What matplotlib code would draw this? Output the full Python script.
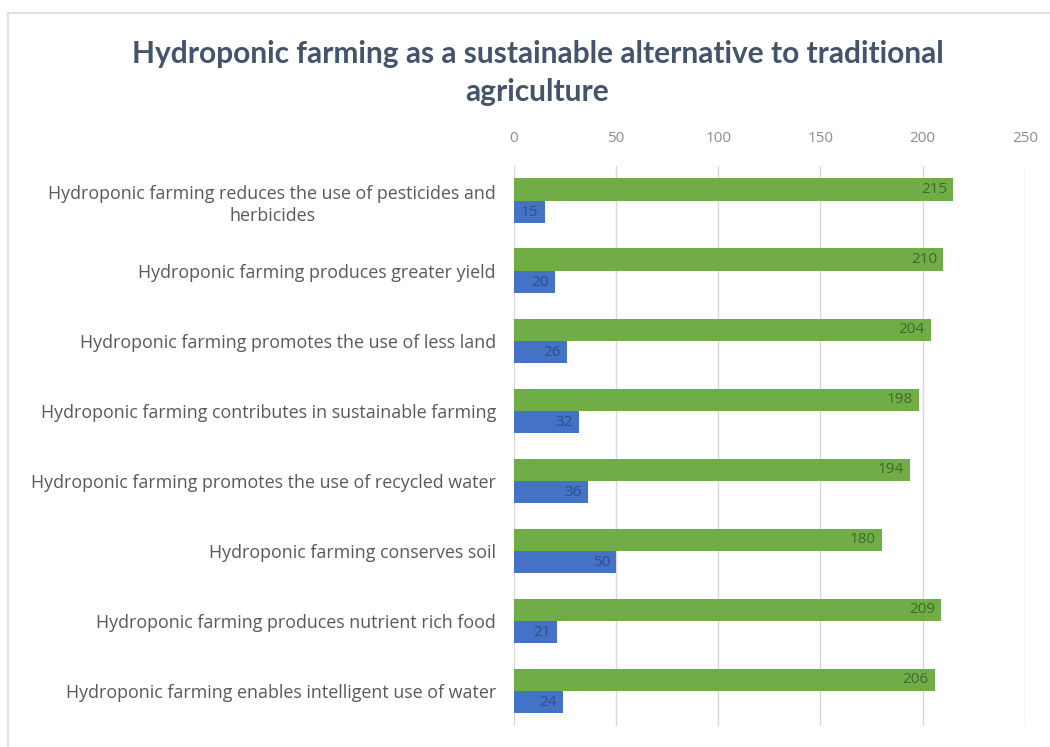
import matplotlib.pyplot as plt
import numpy as np
from matplotlib.patches import Rectangle

categories = [
    "Hydroponic farming reduces the use of pesticides and\nherbicides",
    "Hydroponic farming produces greater yield",
    "Hydroponic farming promotes the use of less land",
    "Hydroponic farming contributes in sustainable farming",
    "Hydroponic farming promotes the use of recycled water",
    "Hydroponic farming conserves soil",
    "Hydroponic farming produces nutrient rich food",
    "Hydroponic farming enables intelligent use of water",
]
agree = [215, 210, 204, 198, 194, 180, 209, 206]
disagree = [15, 20, 26, 32, 36, 50, 21, 24]
xticks = [0, 50, 100, 150, 200, 250]

plt.rcParams['font.family'] = ['Lato', 'DejaVu Sans']

fig = plt.figure(figsize=(10.5, 7.47), dpi=100)
ax = fig.add_axes([0.4895, 0.028, 0.4865, 0.75])

# outer chart border
fig.patches.append(Rectangle((8 / 1050, -0.01), 1.1, 1 - 13 / 747 + 0.01,
                             transform=fig.transFigure, fill=False,
                             edgecolor='#d9d9d9', linewidth=1.2))

y = np.arange(len(categories))
h = 0.32
green = ax.barh(y - h / 2, agree, height=h, color='#70AD47')
blue = ax.barh(y + h / 2, disagree, height=h, color='#4472C4')

for rect, v in zip(green, agree):
    ax.text(v - 3, rect.get_y() + rect.get_height() / 2, str(v),
            ha='right', va='center', fontsize=11, color='#3f6a2c',
            family='Open Sans')
for rect, v in zip(blue, disagree):
    ax.text(v - 3, rect.get_y() + rect.get_height() / 2, str(v),
            ha='right', va='center', fontsize=11, color='#2d4f8c',
            family='Open Sans')

ax.set_xlim(0, 250)
ax.set_ylim(len(categories) - 0.5, -0.5)
ax.set_xticks(xticks)
ax.xaxis.tick_top()
ax.tick_params(axis='x', length=0, labelsize=11, labelcolor='#8c8c8c', pad=14)
for lbl in ax.get_xticklabels():
    lbl.set_family('Open Sans')
ax.set_yticks(y)
ax.set_yticklabels(categories, fontsize=12.9, color='#595959',
                   multialignment='center', family='Open Sans', linespacing=1.3)
ax.tick_params(axis='y', length=0, pad=13)
ax.grid(axis='x', color='#d9d9d9', linewidth=1)
ax.set_axisbelow(True)
for s in ax.spines.values():
    s.set_visible(False)

fig.text(0.512, 0.902, "Hydroponic farming as a sustainable alternative to traditional\nagriculture",
         ha='center', va='center', fontsize=21.5, fontweight='bold',
         color='#44546A', linespacing=1.45)

fig.savefig('out.png', dpi=100)
